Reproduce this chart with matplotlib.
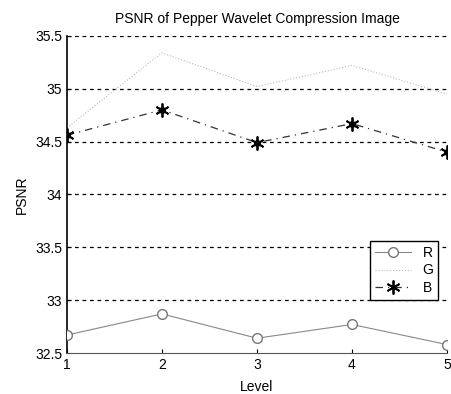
import matplotlib.pyplot as plt
import matplotlib as mpl

mpl.rcParams['font.family'] = ['Liberation Sans', 'DejaVu Sans']

levels = [1, 2, 3, 4, 5]
psnr_r = [32.67, 32.87, 32.64, 32.77, 32.58]
psnr_g = [34.63, 35.34, 35.02, 35.22, 34.95]
psnr_b = [34.56, 34.80, 34.49, 34.67, 34.40]
yticks = [32.5, 33, 33.5, 34, 34.5, 35, 35.5]

fig = plt.figure(figsize=(4.52, 3.94), dpi=100)
ax = fig.add_axes([0.148, 0.104, 0.841, 0.805])

for y in yticks[1:]:
    ax.axhline(y, color='black', linestyle=(0, (3, 3)), linewidth=0.9, zorder=1)

ax.plot(levels, psnr_r, color='#888888', linewidth=0.8, marker='o', markersize=7,
        markerfacecolor='white', markeredgecolor='#777777', label='R', zorder=3)
ax.plot(levels, psnr_g, color='#bbbbbb', linewidth=0.8, linestyle=':', label='G', zorder=2)
ax.plot(levels, psnr_b, color='#333333', linewidth=0.9, linestyle=(0, (6, 4, 1, 4)),
        marker=(6, 2, 0), markersize=10, markeredgewidth=1.3, markeredgecolor='black',
        label='B', zorder=3)
ax.plot(levels, psnr_b, linestyle='none', marker='o', markersize=4, color='black', zorder=4)

ax.set_xlim(1, 5)
ax.set_ylim(32.5, 35.5)
ax.set_xticks(levels)
ax.set_yticks(yticks)
ax.set_yticklabels(['32.5', '33', '33.5', '34', '34.5', '35', '35.5'])
ax.tick_params(labelsize=10, direction='in', length=3)
ax.spines['top'].set_visible(False)
ax.spines['right'].set_visible(False)
ax.spines['left'].set_linewidth(1.2)
ax.spines['bottom'].set_color('#555555')

ax.set_title('PSNR of Pepper Wavelet Compression Image', fontsize=10, pad=9)
ax.set_xlabel('Level', fontsize=10, labelpad=6)
ax.set_ylabel('PSNR', fontsize=10)

leg = ax.legend(loc='upper left', bbox_to_anchor=(0.78, 0.375), fontsize=10, frameon=True,
                fancybox=False, edgecolor='black', handlelength=2.6, borderpad=0.35,
                labelspacing=0.25, framealpha=1)
leg.get_frame().set_linewidth(1.0)

fig.savefig('out.png', dpi=100)
